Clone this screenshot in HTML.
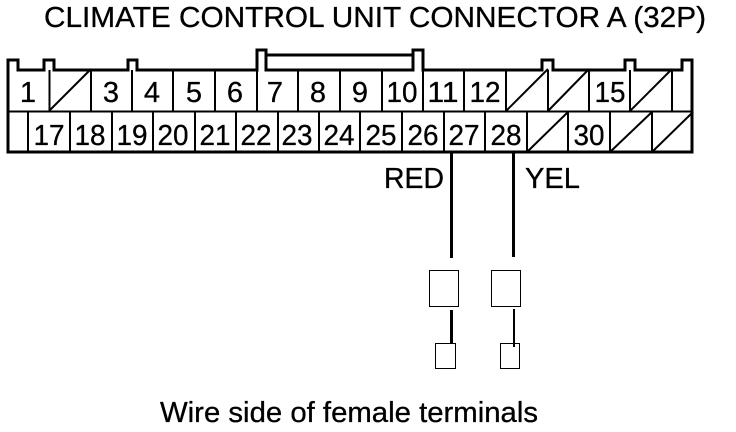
<!DOCTYPE html>
<html>
<head>
<meta charset="utf-8">
<style>
html,body{margin:0;padding:0;background:#fff;width:736px;height:432px;overflow:hidden}
svg{display:block}
text{font-family:"Liberation Sans",sans-serif;fill:#000;stroke:#000;stroke-width:.3px}
.n{font-size:29px;text-anchor:middle}
.r{shape-rendering:crispEdges;stroke:#000;fill:none}
</style>
</head>
<body>
<svg width="736" height="432" viewBox="0 0 736 432" xmlns="http://www.w3.org/2000/svg">
<text x="44" y="27" font-size="28.5" textLength="662" lengthAdjust="spacingAndGlyphs">CLIMATE CONTROL UNIT CONNECTOR A (32P)</text>

<!-- outline -->
<path class="r" stroke-width="3" d="M8 152V60H18V70H44V60H54V70H128V60H137V70H257V50H266V70H413V50H423V70H542V60H553V70H625V60H635V70H682V60H692V152Z"/>
<path class="r" stroke-width="3" d="M266 55H413"/>
<path class="r" stroke-width="2" d="M8 111.500H692"/>

<!-- top row dividers -->
<path class="r" stroke-width="2" d="M49.500 70V111M91 70V111M132 70V111M173 70V111M215 70V111M257 70V111M298 70V111M340 70V111M382 70V111M423 70V111M464 70V111M506 70V111M548 70V111M589 70V111M630 70V111M672 70V111"/>
<!-- bottom row dividers -->
<path class="r" stroke-width="2" d="M28 112V152M70 112V152M112 112V152M153 112V152M195 112V152M236 112V152M278 112V152M319 112V152M360 112V152M402 112V152M444 112V152M485 112V152M527 112V152M568 112V152M610 112V152M652 112V152"/>

<!-- diagonals -->
<g stroke="#000" stroke-width="2" fill="none">
<path d="M49 111L91 69M506 111L548 69M548 111L589 69M630 111L672 69"/>
<path d="M527 152L568 112M610 152L652 112M652 152L693 112"/>
</g>

<!-- top labels -->
<text class="n" x="28" y="102">1</text>
<text class="n" x="111" y="102">3</text>
<text class="n" x="152" y="102">4</text>
<text class="n" x="194" y="102">5</text>
<text class="n" x="235" y="102">6</text>
<text class="n" x="275" y="102">7</text>
<text class="n" x="318" y="102">8</text>
<text class="n" x="360" y="102">9</text>
<text class="n" x="402" y="102" textLength="31" lengthAdjust="spacingAndGlyphs">10</text>
<text class="n" x="443" y="102" textLength="31" lengthAdjust="spacingAndGlyphs">11</text>
<text class="n" x="485" y="102" textLength="31" lengthAdjust="spacingAndGlyphs">12</text>
<text class="n" x="610" y="102" textLength="31" lengthAdjust="spacingAndGlyphs">15</text>

<!-- bottom labels -->
<text class="n" x="49" y="145" textLength="31" lengthAdjust="spacingAndGlyphs">17</text>
<text class="n" x="90" y="145" textLength="31" lengthAdjust="spacingAndGlyphs">18</text>
<text class="n" x="132" y="145" textLength="31" lengthAdjust="spacingAndGlyphs">19</text>
<text class="n" x="173" y="145" textLength="31" lengthAdjust="spacingAndGlyphs">20</text>
<text class="n" x="215" y="145" textLength="31" lengthAdjust="spacingAndGlyphs">21</text>
<text class="n" x="256" y="145" textLength="31" lengthAdjust="spacingAndGlyphs">22</text>
<text class="n" x="297" y="145" textLength="31" lengthAdjust="spacingAndGlyphs">23</text>
<text class="n" x="339" y="145" textLength="31" lengthAdjust="spacingAndGlyphs">24</text>
<text class="n" x="381" y="145" textLength="31" lengthAdjust="spacingAndGlyphs">25</text>
<text class="n" x="423" y="145" textLength="31" lengthAdjust="spacingAndGlyphs">26</text>
<text class="n" x="464" y="145" textLength="31" lengthAdjust="spacingAndGlyphs">27</text>
<text class="n" x="506" y="145" textLength="31" lengthAdjust="spacingAndGlyphs">28</text>
<text class="n" x="589" y="145" textLength="31" lengthAdjust="spacingAndGlyphs">30</text>

<!-- wires -->
<path class="r" stroke-width="3" d="M451.500 152V258M513.500 152V257"/>
<text x="384" y="188" font-size="28.5" textLength="60" lengthAdjust="spacingAndGlyphs">RED</text>
<text x="525" y="188" font-size="28.5" textLength="55" lengthAdjust="spacingAndGlyphs">YEL</text>

<!-- terminals -->
<rect class="r" stroke-width="1" x="429.500" y="270.500" width="29" height="36"/>
<rect class="r" stroke-width="1" x="491.500" y="270.500" width="29" height="36"/>
<path class="r" stroke-width="3" d="M451.500 310V344"/>
<path class="r" stroke-width="2" d="M514 309V347"/>
<rect class="r" stroke-width="1" x="435.500" y="343.500" width="20" height="25"/>
<rect class="r" stroke-width="1" x="500.500" y="343.500" width="19" height="25"/>

<text x="160" y="422" font-size="28.5" textLength="378" lengthAdjust="spacingAndGlyphs">Wire side of female terminals</text>
</svg>
</body>
</html>
